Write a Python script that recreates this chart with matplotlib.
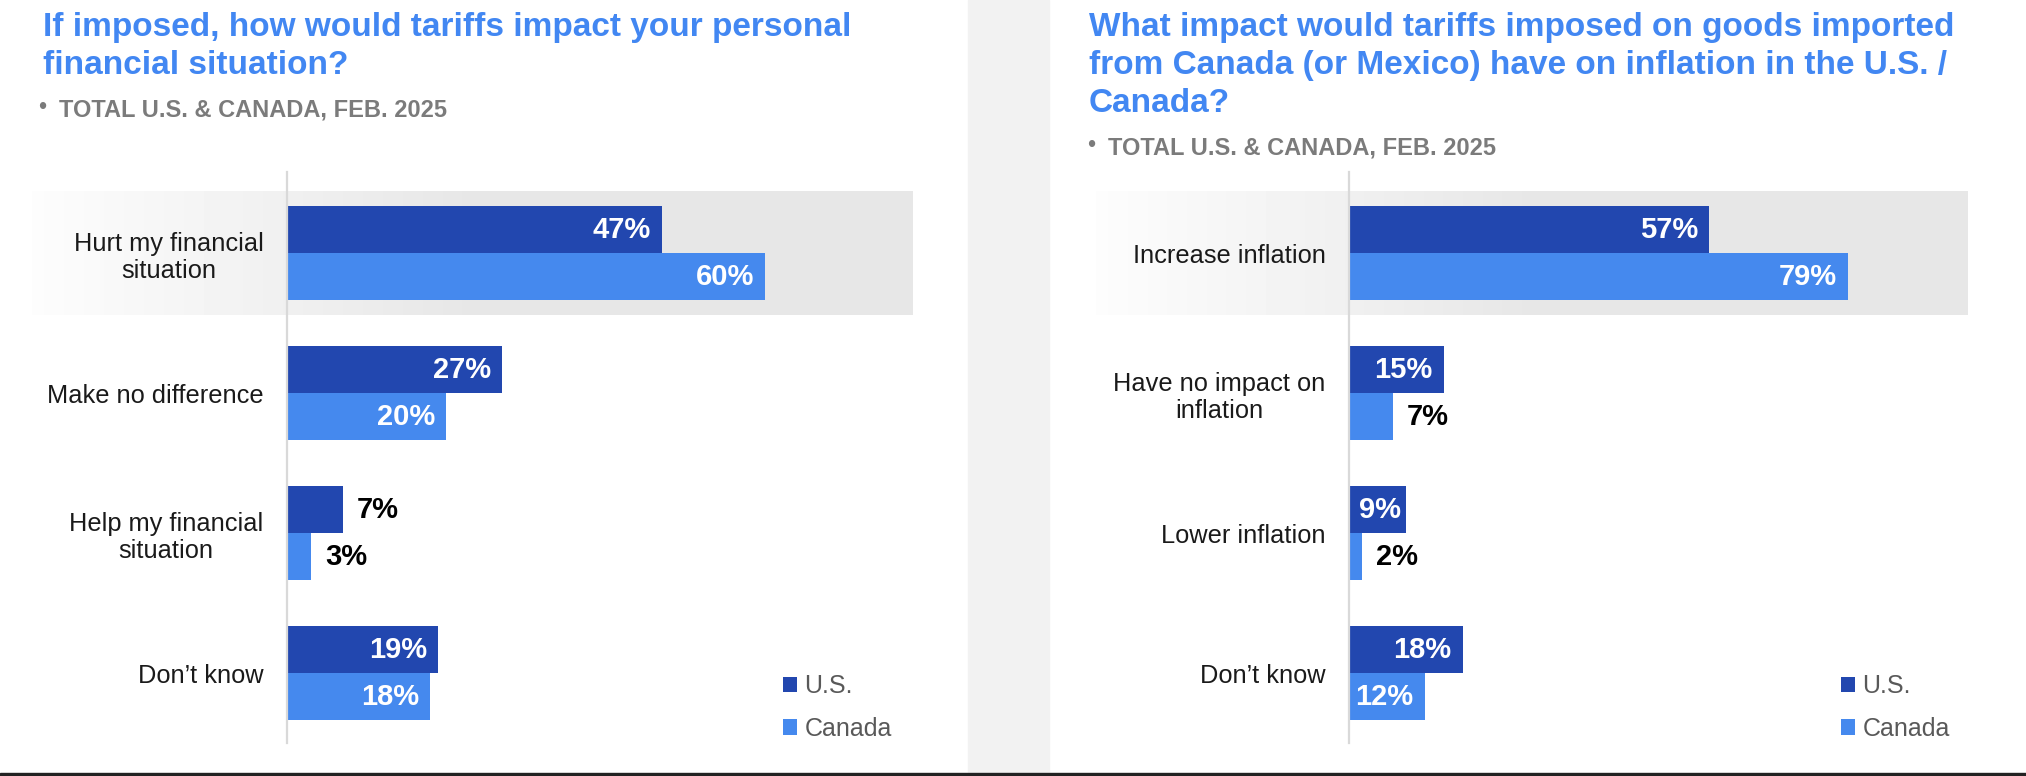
import matplotlib
matplotlib.use('Agg')
import matplotlib.pyplot as plt
import numpy as np
from matplotlib.patches import Rectangle

plt.rcParams['font.family'] = ['Liberation Sans', 'DejaVu Sans']

# data
series = ['U.S.', 'Canada']

left_title = 'If imposed, how would tariffs impact your personal\nfinancial situation?'
left_cats = ['Hurt my financial\nsituation', 'Make no difference',
             'Help my financial\nsituation', "Don\u2019t know"]
left_us = [47, 27, 7, 19]
left_ca = [60, 20, 3, 18]

right_title = ('What impact would tariffs imposed on goods imported\n'
               'from Canada (or Mexico) have on inflation in the U.S. /\nCanada?')
right_cats = ['Increase inflation', 'Have no impact on\ninflation',
              'Lower inflation', "Don\u2019t know"]
right_us = [57, 15, 9, 18]
right_ca = [79, 7, 2, 12]

subtitle = 'TOTAL U.S. & CANADA, FEB. 2025'

US_COL = '#2247AF'
CA_COL = '#4589EE'
TITLE_COL = '#4287F2'
SUB_COL = '#7b7b7b'

W, H = 2026, 776
fig = plt.figure(figsize=(W / 100, H / 100), dpi=100)


def fx(px):
    return px / W


def fy(px):
    return 1 - px / H


# light strip between the two slides + dark bottom rule
fig.add_artist(Rectangle((fx(968), 0), fx(1049) - fx(968), 1,
                         transform=fig.transFigure, color='#f2f2f2', zorder=0))
fig.add_artist(Rectangle((0, 0), 1, 3 / H, transform=fig.transFigure,
                         color='#222222', zorder=5))


def panel(left_px, width_px, xmax, band_left, cats, us, ca, title, title_x,
          sub_y, sub_x, legend_x):
    ax = fig.add_axes([fx(left_px), fy(743), fx(width_px), 571 / H])
    y = np.arange(len(cats))
    h = 0.336

    # highlighted first row, fading in from the left
    g = np.concatenate([np.linspace(0.99, 0.905, 60), np.full(60, 0.905)])
    ax.imshow(g[np.newaxis, :], cmap='gray', vmin=0, vmax=1, aspect='auto',
              extent=[band_left, xmax, y[0] + 0.44, y[0] - 0.44],
              clip_on=False, zorder=0, interpolation='bilinear')

    b1 = ax.barh(y - h / 2, us, height=h, color=US_COL, label=series[0], zorder=2)
    b2 = ax.barh(y + h / 2, ca, height=h, color=CA_COL, label=series[1], zorder=2)

    for bars, vals in ((b1, us), (b2, ca)):
        for rect, v in zip(bars, vals):
            yc = rect.get_y() + rect.get_height() / 2
            kw = dict(textcoords='offset points', va='center', fontsize=21,
                      fontweight='bold', zorder=3)
            if v >= 12:
                ax.annotate(f'{v}%', (v, yc), xytext=(-8, 0), ha='right',
                            color='white', **kw)
            elif v >= 8:
                # narrow bar: centre the label inside it
                ax.annotate(f'{v}%', (v / 2, yc), xytext=(2, 0), ha='center',
                            color='white', **kw)
            else:
                ax.annotate(f'{v}%', (v, yc), xytext=(10, 0), ha='left',
                            color='black', **kw)

    ax.set_xlim(0, xmax)
    ax.set_ylim(3.5, -0.58)
    ax.set_xticks([])
    ax.set_yticks(y)
    ax.set_yticklabels(cats, fontsize=18.3, color='#1a1a1a')
    for t in ax.get_yticklabels():
        t.set_multialignment('center')
    ax.tick_params(axis='y', length=0, pad=17)
    for s in ('top', 'right', 'bottom'):
        ax.spines[s].set_visible(False)
    ax.spines['left'].set_color('#d9d9d9')
    ax.spines['left'].set_linewidth(1.6)
    ax.set_facecolor('none')

    ax.legend(loc='center left', bbox_to_anchor=(fx(legend_x), fy(707.5)),
              bbox_transform=fig.transFigure, frameon=False, fontsize=18,
              labelcolor='#595959', handlelength=0.56, handleheight=0.56,
              handletextpad=0.3, labelspacing=0.75, borderpad=0, borderaxespad=0)

    fig.text(fx(title_x), fy(12), title, ha='left', va='top', fontsize=24,
             fontweight='bold', color=TITLE_COL, linespacing=1.29)
    fig.text(fx(sub_x - 21), fy(sub_y - 3), '\u2022', ha='left', va='baseline',
             fontsize=17, color=SUB_COL)
    fig.text(fx(sub_x), fy(sub_y), subtitle, ha='left', va='baseline',
             fontsize=17, fontweight='bold', color=SUB_COL)
    return ax


panel(287, 625, 78.4, -32, left_cats, left_us, left_ca, left_title, 43, 117, 59, 783)
panel(1349, 619, 98, -40, right_cats, right_us, right_ca, right_title, 1089, 155, 1108, 1841)

fig.savefig('out.png', dpi=100)
